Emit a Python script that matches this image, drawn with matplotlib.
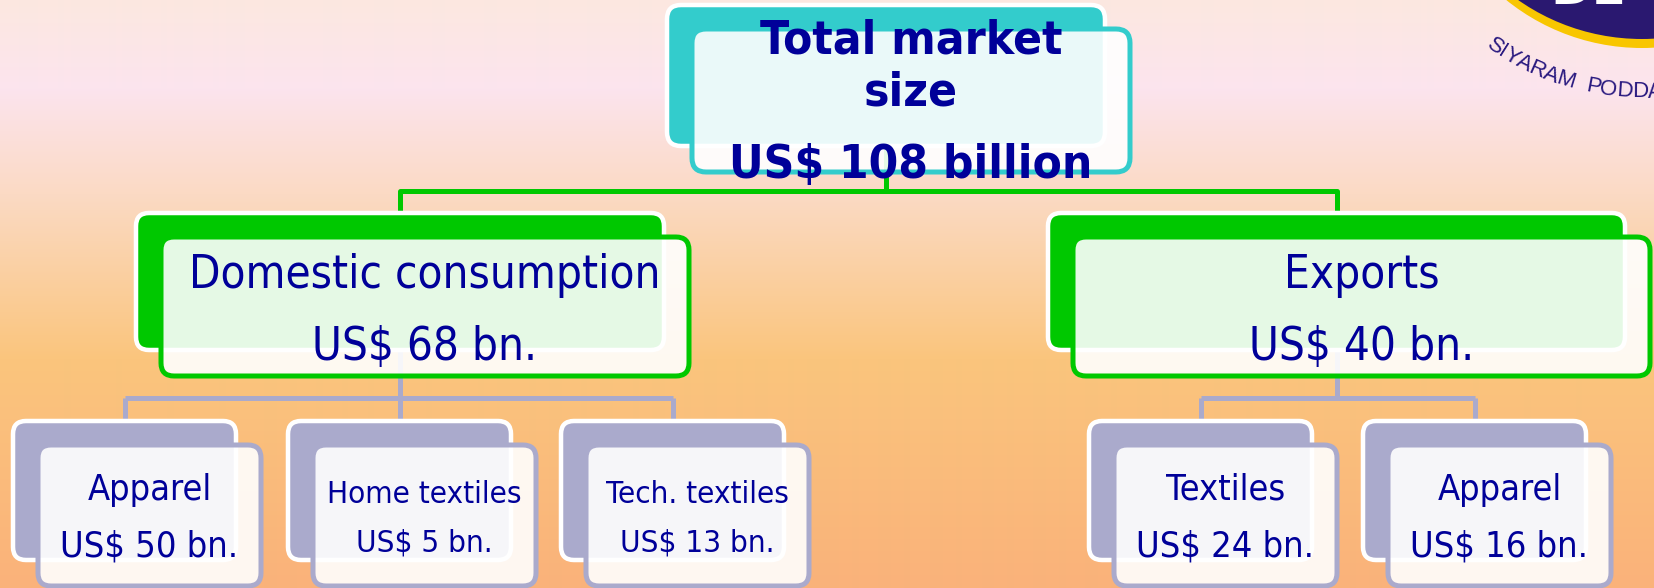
import os
import numpy as np
import matplotlib
matplotlib.use("Agg")
import matplotlib.pyplot as plt
from matplotlib.patches import FancyBboxPatch, Circle, Ellipse
from matplotlib.font_manager import FontProperties, fontManager

# ---------------- data ----------------
total_lines = ["Total market", "size"]
total_value = 108
level2_names = ["Domestic consumption", "Exports"]
level2_values = [68, 40]
level3_names = ["Apparel", "Home textiles", "Tech. textiles", "Textiles", "Apparel"]
level3_values = [50, 5, 13, 24, 16]
level3_parent = [0, 0, 0, 1, 1]
logo_arc_text = "SIYARAM PODDAR"

# ---------------- layout (pixels, y downwards) ----------------
W, H = 1654, 588
top_back = (667, 5, 438, 141)          # x, y, w, h (line centre)
level2_back = [(136, 213, 528, 137), (1048, 213, 577, 137)]
level3_back_x = [13, 288, 561, 1089, 1363]
level3_y, level3_w, level3_h = 421, 223, 139
off_x, off_y = 25, 22

TEAL = "#33CCCC"
GREEN = "#00C800"
LAV = "#AAAACC"
NAVY_TXT = "#000099"

# fonts
def _find(base):
    for f in fontManager.ttflist:
        if os.path.basename(f.fname) == base:
            return f.fname
    return None

cond = _find("DejaVuSansCondensed.ttf")
cond_b = _find("DejaVuSansCondensed-Bold.ttf")
if cond and cond_b:
    fp_reg = lambda s: FontProperties(fname=cond, size=s)
    fp_bold = lambda s: FontProperties(fname=cond_b, size=s)
    k = 1.0
else:
    fp_reg = lambda s: FontProperties(family="DejaVu Sans", size=s)
    fp_bold = lambda s: FontProperties(family="DejaVu Sans", weight="bold", size=s)
    k = 0.9

fig = plt.figure(figsize=(W / 100, H / 100), dpi=100)
ax = fig.add_axes([0, 0, 1, 1])
ax.set_xlim(0, W)
ax.set_ylim(H, 0)
ax.axis("off")

# background gradient
stops = np.array([0.0, 0.15, 0.33, 0.61, 1.0])
cols = np.array([[252, 232, 224], [252, 228, 238], [251, 218, 196],
                 [250, 197, 125], [250, 178, 122]]) / 255.0
t = np.linspace(0, 1, H)
grad = np.stack([np.interp(t, stops, cols[:, i]) for i in range(3)], axis=-1)[:, None, :]
ax.imshow(grad, extent=[0, W, H, 0], aspect="auto", zorder=0, interpolation="bilinear")

PX = 0.72  # px -> pt


def node(box, color, r, lw_back=4.5, lw_front=5.0):
    x, y, w, h = box
    ax.add_patch(FancyBboxPatch((x, y), w, h, boxstyle=f"round,pad=0,rounding_size={r}",
                                fc=color, ec="white", lw=lw_back * PX, zorder=2))
    ax.add_patch(FancyBboxPatch((x + off_x, y + off_y + 2), w, h + 2,
                                boxstyle=f"round,pad=0,rounding_size={r}",
                                fc=(1, 1, 1, 0.9), ec=color, lw=lw_front * PX, zorder=3))
    return x + off_x + w / 2.0


def line(xs, ys, color):
    ax.plot(xs, ys, color=color, lw=5 * PX, solid_joinstyle="round",
            solid_capstyle="butt", zorder=1)


# connectors level 1 -> 2
tcx = top_back[0] + top_back[2] / 2
l2c = [b[0] + b[2] / 2 for b in level2_back]
ybar1 = 191
line([tcx, tcx], [80, ybar1], GREEN)
line([l2c[0], l2c[0], l2c[1], l2c[1]], [280, ybar1, ybar1, 280], GREEN)

# connectors level 2 -> 3
ybar2 = 398
l3c = [x + level3_w / 2 for x in level3_back_x]
for p in range(2):
    kids = [l3c[i] for i in range(len(l3c)) if level3_parent[i] == p]
    line([l2c[p], l2c[p]], [300, ybar2], LAV)
    line([min(kids), max(kids)], [ybar2, ybar2], LAV)
    for c in kids:
        line([c, c], [ybar2, 460], LAV)

# top node
fx = node(top_back, TEAL, 14)
ax.text(fx, 53, total_lines[0], ha="center", va="baseline", color=NAVY_TXT,
        fontproperties=fp_bold(34.2 * k), zorder=5)
ax.text(fx, 106, total_lines[1], ha="center", va="baseline", color=NAVY_TXT,
        fontproperties=fp_bold(34.2 * k), zorder=5)
ax.text(fx, 178, f"US$ {total_value} billion", ha="center", va="baseline", color=NAVY_TXT,
        fontproperties=fp_bold(34.2 * k), zorder=5)

# level 2
for i, b in enumerate(level2_back):
    fx = node(b, GREEN, 13)
    ax.text(fx, 288, level2_names[i], ha="center", va="baseline", color=NAVY_TXT,
            fontproperties=fp_reg(32.8 * k), zorder=5)
    ax.text(fx, 360, f"US$ {level2_values[i]} bn.", ha="center", va="baseline",
            color=NAVY_TXT, fontproperties=fp_reg(32.8 * k), zorder=5)

# level 3
for i, x in enumerate(level3_back_x):
    fx = node((x, level3_y, level3_w, level3_h), LAV, 13)
    small = len(level3_names[i]) > 10
    fs = (22.5 if small else 25.9) * k
    y1, y2 = (503, 552) if small else (500, 557)
    ax.text(fx, y1, level3_names[i], ha="center", va="baseline", color=NAVY_TXT,
            fontproperties=fp_reg(fs), zorder=5)
    ax.text(fx, y2, f"US$ {level3_values[i]} bn.", ha="center", va="baseline",
            color=NAVY_TXT, fontproperties=fp_reg(fs), zorder=5)

# logo (top right, partly outside)
cx, cy = 1642, -168
ax.add_patch(Circle((cx, cy), 216, fc="#F8C600", ec="none", zorder=2))
ax.add_patch(Ellipse((cx, cy), 2 * 212, 2 * 207, fc="#2A1870", ec="none", zorder=2))
ax.text(1588, 4, "DE", ha="center", va="baseline", color="white",
        fontproperties=FontProperties(family="DejaVu Sans", weight="bold", size=36), zorder=4)

widths = {"S": .65, "I": .3, "Y": .65, "A": .7, "R": .7, "M": .85, " ": .6,
          "P": .65, "O": .8, "D": .75}
rad = 260
ang0 = 34.5
pos = 0.0
prev = None
for ch in logo_arc_text:
    w = widths.get(ch, .7)
    if prev is not None:
        pos += prev / 2 + w / 2
    prev = w
    if ch == " ":
        continue
    a = ang0 - pos * 4.6
    ar = np.deg2rad(a)
    x = cx - rad * np.sin(ar)
    y = cy + rad * np.cos(ar)
    ax.text(x, y, ch, ha="center", va="center", rotation=-a, rotation_mode="anchor",
            color="#2A1A80", fontproperties=FontProperties(family="Liberation Sans", size=16),
            zorder=4)

fig.savefig("out.png", dpi=100)
